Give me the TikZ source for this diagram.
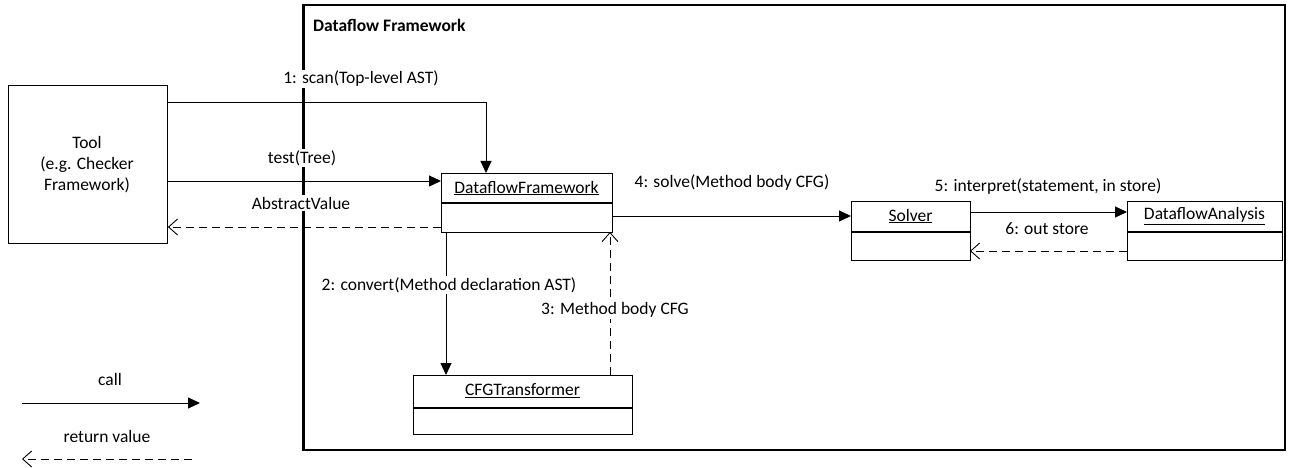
\documentclass[tikz,border=0pt]{standalone}
\usepackage{fontspec}
\setmainfont{Carlito}
\usetikzlibrary{arrows.meta}
\tikzset{
  lbl/.style={inner sep=0pt,font=\fontsize{17.5}{21}\selectfont},
  elbl/.style={inner sep=1.5pt,fill=white,font=\fontsize{17.5}{21}\selectfont},
  obj/.style={draw,line width=1.4pt,inner sep=0pt},
  call/.style={line width=0.9pt,-{Triangle[length=12pt,width=11pt]}},
  ret/.style={line width=0.9pt,dash pattern=on 8pt off 5pt,-{Straight Barb[length=9pt,width=16pt,line width=0.9pt]}},
}
\begin{document}
\begin{tikzpicture}[x=1pt,y=-1pt]
\useasboundingbox (0,0) rectangle (1291,468);
% frame
\draw[line width=2.6pt] (303.5,5) rectangle (1285,450);
\node[lbl,anchor=west,font=\fontsize{17.5}{21}\selectfont\bfseries] (title) at (313,25) {Dataflow Framework};
% Tool
\node[draw,line width=0.9pt,minimum width=159pt,minimum height=158pt,anchor=north west] (tool) at (8,85) {};
\node[lbl,align=center,font=\fontsize{17.5}{21}\selectfont] (tooltxt) at (87,165) {Tool\\(e.g. Checker\\Framework)};
% DataflowFramework
\node[obj,minimum width=171pt,minimum height=59pt,anchor=north west] (df) at (441,173) {};
\draw[line width=1.4pt] (441,203) -- (612,203);
\node[lbl] (dft) at (526.5,188) {\underline{DataflowFramework}};
% CFGTransformer
\node[obj,minimum width=219pt,minimum height=59pt,anchor=north west] (cfg) at (413,375) {};
\draw[line width=1.4pt] (413,408) -- (632,408);
\node[lbl] (cfgt) at (522.5,391) {\underline{CFGTransformer}};
% Solver
\node[obj,minimum width=119pt,minimum height=59pt,anchor=north west] (sol) at (851,201) {};
\draw[line width=1.4pt] (851,232) -- (970,232);
\node[lbl] (solt) at (910.5,216) {\underline{Solver}};
% DataflowAnalysis
\node[obj,minimum width=155pt,minimum height=59pt,anchor=north west] (da) at (1127,201) {};
\draw[line width=1.4pt] (1127,232) -- (1282,232);
\node[lbl] (dat) at (1204.5,216) {\underline{DataflowAnalysis}};
% connector end points
\coordinate (t1) at (tool.east |- 0,102);
\coordinate (t2) at (tool.east |- 0,181);
\coordinate (t3) at (tool.east |- 0,227);
\coordinate (dfscan) at (486,173);
% arrows
\draw[call] (t1) -- (dfscan |- t1) -- (dfscan);
\draw[call] (t2) -- (df.west |- t2);
\draw[ret] (df.west |- t3) -- (t3);
\draw[call] (446,232) -- (446,375);
\draw[ret] (610,375) -- (610,232);
\draw[call] (612,216) -- (sol.west |- 0,216);
\draw[call] (970,212) -- (da.west |- 0,212);
\draw[ret] (da.west |- 0,251) -- (970,251);
% labels
\node[elbl] (l1) at (361,79) {1: scan(Top-level AST)};
\node[elbl] (l2) at (302,158) {test(Tree)};
\node[elbl] (l3) at (301,203) {AbstractValue};
\node[elbl] (l4) at (449,285) {2: convert(Method declaration AST)};
\node[elbl] (l5) at (615,310) {3: Method body CFG};
\node[elbl] (l6) at (732,183) {4: solve(Method body CFG)};
\node[elbl] (l7) at (1048,187) {5: interpret(statement, in store)};
\node[elbl] (l8) at (1047,229) {6: out store};
% legend
\coordinate (ca) at (22,403);
\coordinate (cb) at (200,403);
\coordinate (ra) at (192,459);
\coordinate (rb) at (22,459);
\draw[call] (ca) -- (cb);
\draw[ret] (ra) -- (rb);
\node[lbl] (lc) at (110,379) {call};
\node[lbl] (lr) at (107,436) {return value};
\end{tikzpicture}
\end{document}
